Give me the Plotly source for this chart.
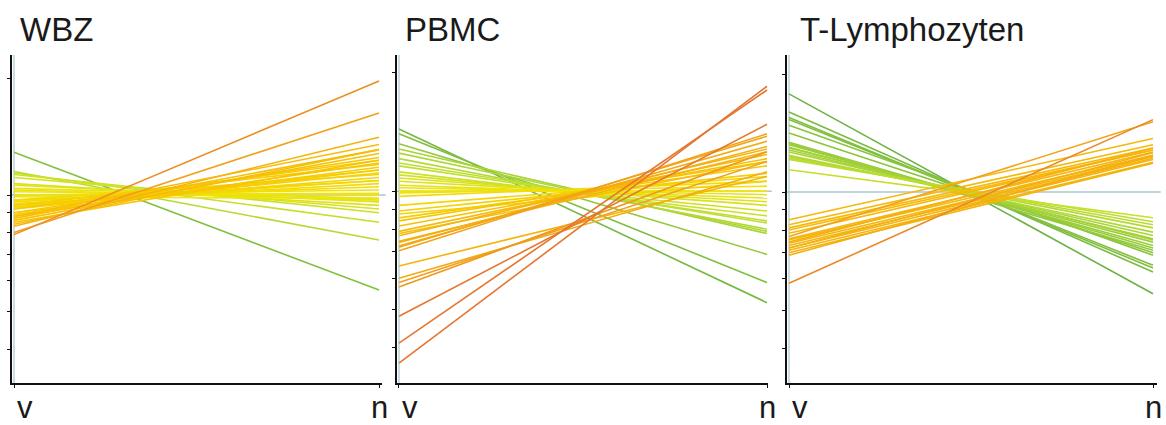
import math
import plotly.graph_objects as go
from plotly.colors import sample_colorscale

# ---------------- data (ratio values) ----------------
stages = ["v", "n"]
panel_titles = ["WBZ", "PBMC", "T-Lymphozyten"]
y_tickvals = [0.4, 0.5, 0.6, 0.7, 0.8, 0.9, 1.0, 2.0]

wbz_v = [1.29, 1.15, 1.14, 1.13, 1.11, 1.07, 1.06, 1.04, 1.03, 1.02, 1.00, 0.99,
         1.00, 0.97, 0.95, 0.94, 0.93, 0.92, 0.90, 0.89, 0.88, 0.92, 0.94, 0.90,
         0.86, 0.87, 0.85, 0.84, 0.88, 0.83, 0.80, 0.79, 0.97, 0.93, 0.96]
wbz_n = [0.568, 0.765, 0.85, 0.90, 0.92, 0.94, 0.96, 0.98, 0.97, 1.00, 1.01, 0.98,
         1.03, 1.05, 1.07, 1.09, 1.11, 1.14, 1.16, 1.18, 1.21, 1.23, 1.20, 1.25,
         1.28, 1.31, 1.23, 1.31, 1.35, 1.41, 1.63, 1.97, 1.13, 1.16, 1.09]

pbmc_v = [1.44, 1.40, 1.32, 1.28, 1.25, 1.21, 1.18, 1.16, 1.12, 1.10, 1.08, 1.06,
          1.035, 1.02, 1.00, 0.99, 0.97, 0.92, 0.89, 0.855, 0.84, 0.815, 0.79, 0.77,
          0.74, 0.725, 0.72, 0.705, 0.645, 0.60, 0.585, 0.57, 0.48, 0.41, 0.365,
          0.78, 0.745, 0.875]
pbmc_n = [0.52, 0.585, 0.69, 0.78, 0.79, 0.80, 0.83, 0.84, 0.865, 0.89, 0.92, 0.94,
          0.96, 0.98, 1.00, 1.03, 1.06, 1.09, 1.11, 1.16, 1.19, 1.21, 1.24, 1.28,
          1.30, 1.34, 1.38, 1.40, 1.09, 1.12, 1.19, 1.26, 1.48, 1.81, 1.85,
          1.19, 1.26, 1.06]

tly_v = [1.78, 1.60, 1.55, 1.53, 1.48, 1.415, 1.34, 1.32, 1.30, 1.28, 1.265, 1.24,
         1.23, 1.22, 1.21, 1.14, 1.295, 1.33, 0.85, 0.825, 0.81, 0.785, 0.76, 0.755,
         0.74, 0.73, 0.72, 0.71, 0.70, 0.69, 0.585, 0.77, 0.80, 0.745, 0.72]
tly_n = [0.55, 0.625, 0.64, 0.65, 0.69, 0.70, 0.72, 0.73, 0.745, 0.76, 0.775, 0.79,
         0.81, 0.825, 0.84, 0.86, 0.755, 0.71, 1.37, 1.32, 1.295, 1.28, 1.265, 1.24,
         1.23, 1.22, 1.21, 1.19, 1.185, 1.24, 1.53, 1.51, 1.28, 1.295, 1.26]

panels = [(wbz_v, wbz_n), (pbmc_v, pbmc_n), (tly_v, tly_n)]

# ---------------- styling ----------------
colorscale = [[0.0, "rgb(108,178,68)"], [0.2, "rgb(140,198,60)"],
              [0.35, "rgb(190,222,48)"], [0.5, "rgb(240,228,10)"],
              [0.65, "rgb(248,198,0)"], [0.8, "rgb(242,162,25)"],
              [1.0, "rgb(228,118,48)"]]


def line_color(a, b):
    s = math.log10(b / a)
    t = min(1.0, max(0.0, (s + 0.5) / 1.0))
    return sample_colorscale(colorscale, [t])[0]


x_domains = [[12 / 1166, 382 / 1166], [397 / 1166, 768 / 1166], [787 / 1166, 1157 / 1166]]
x_ranges = [[-0.0055, 1.0082], [-0.0054, 1.0027], [-0.0055, 1.011]]
y_ranges = [[-0.4858, 0.3618], [-0.4886, 0.3468], [-0.4872, 0.3495]]
y_domain = [(425 - 383) / 425, (425 - 55) / 425]
ref_blue = "#a9c7d0"
font_family = "Liberation Sans, Arial, sans-serif"

fig = go.Figure()
layout = dict(
    width=1166, height=425,
    margin=dict(l=0, r=0, t=0, b=0),
    paper_bgcolor="white", plot_bgcolor="white",
    showlegend=False,
    shapes=[], annotations=[],
)

for i, (vals_v, vals_n) in enumerate(panels):
    k = "" if i == 0 else str(i + 1)
    xa, ya = "x" + k, "y" + k
    order = sorted(range(len(vals_v)), key=lambda j: math.log10(vals_n[j] / vals_v[j]))
    for j in order:
        fig.add_trace(go.Scatter(
            x=stages, y=[vals_v[j], vals_n[j]], mode="lines",
            line=dict(color=line_color(vals_v[j], vals_n[j]), width=1.6),
            xaxis=xa, yaxis=ya, hoverinfo="skip", showlegend=False))

    layout["xaxis" + k] = dict(
        domain=x_domains[i], range=x_ranges[i], type="category",
        anchor=ya, showgrid=False, zeroline=False,
        showline=True, linecolor="#111", linewidth=1.5,
        ticks="outside", ticklen=3, tickcolor="#111", showticklabels=False,
        fixedrange=True)
    layout["yaxis" + k] = dict(
        domain=y_domain, range=y_ranges[i], type="log",
        anchor=xa, showgrid=False, zeroline=False,
        showline=True, linecolor="#111", linewidth=1.5,
        tickmode="array", tickvals=y_tickvals,
        ticks="outside", ticklen=3, tickcolor="#111", showticklabels=False,
        fixedrange=True)

    # reference lines: vertical at "v" and horizontal at ratio 1
    layout["shapes"].append(dict(
        type="line", xref=xa, yref=ya + " domain", x0=0, x1=0, y0=0, y1=1,
        line=dict(color=ref_blue, width=1.2), layer="below"))
    layout["shapes"].append(dict(
        type="line", xref=xa + " domain", yref=ya, x0=0, x1=1.01, y0=1, y1=1,
        line=dict(color=ref_blue, width=1.5), layer="below"))

    # panel title
    layout["annotations"].append(dict(
        text=panel_titles[i], xref=xa + " domain", yref="paper",
        x=0, y=(425 - 29) / 425, xanchor="left", yanchor="middle",
        xshift=6 if i < 2 else 11, showarrow=False,
        font=dict(family=font_family, size=33, color="#1a1a1a")))

    # stage labels
    for s, anchor, shift in [(stages[0], "left", 2), (stages[1], "center", 0)]:
        layout["annotations"].append(dict(
            text=s, xref=xa, yref="paper", x=s, y=0,
            xanchor=anchor, yanchor="bottom", xshift=shift, yshift=-1,
            borderpad=0, showarrow=False,
            font=dict(family=font_family, size=31, color="#1a1a1a")))

fig.update_layout(**layout)
fig.write_html("out.html")
